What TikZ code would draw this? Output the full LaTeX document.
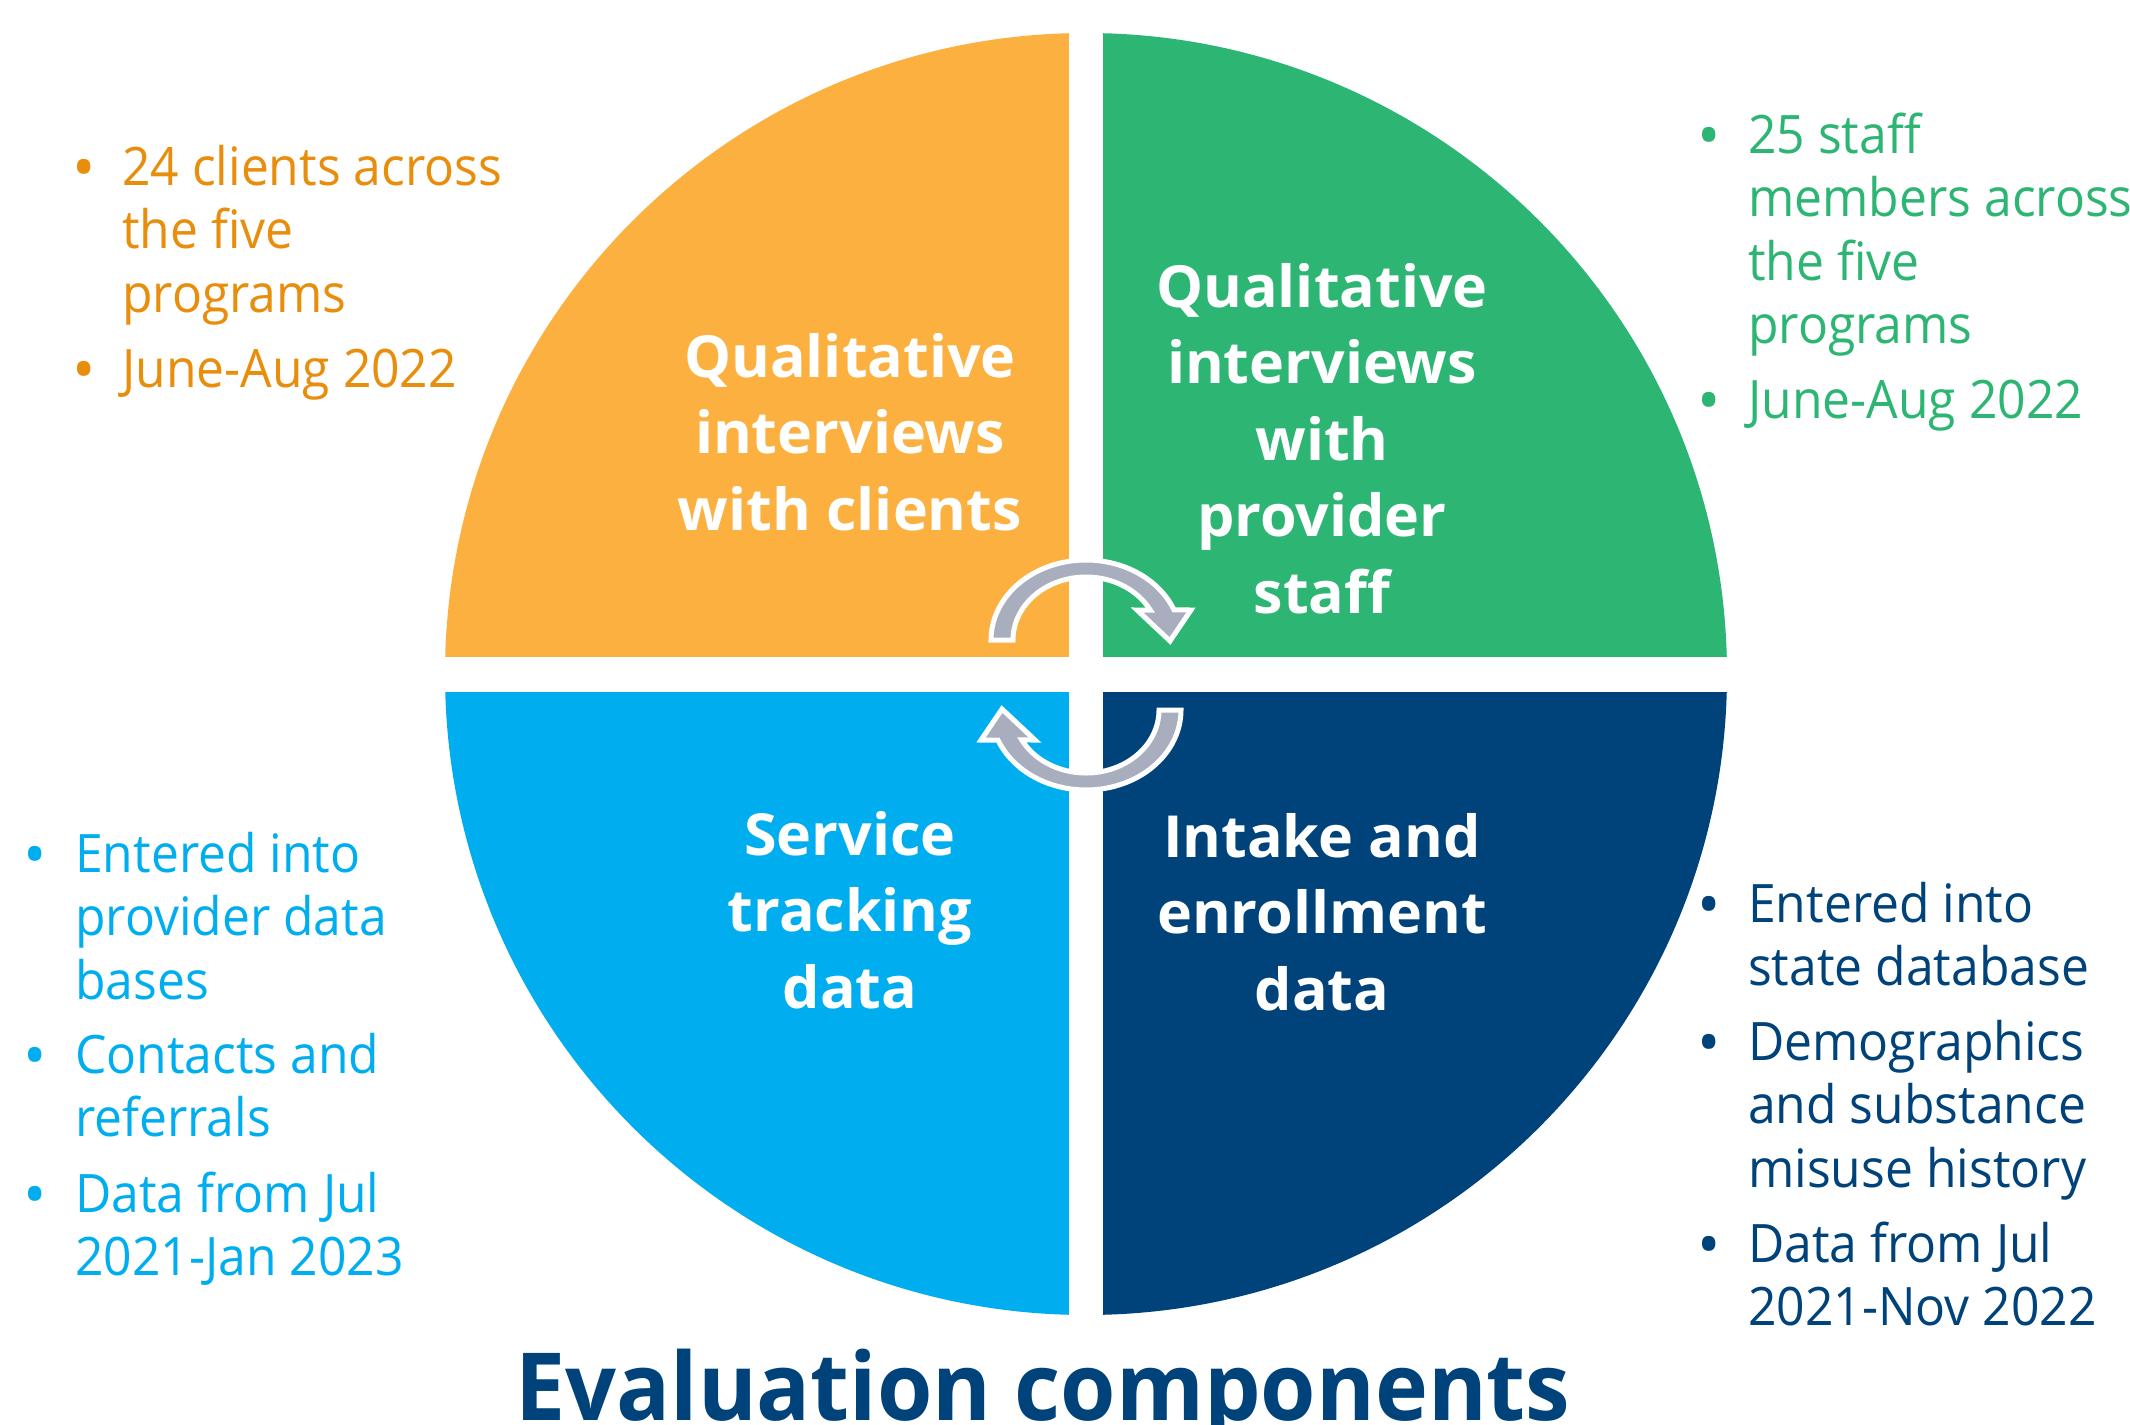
\documentclass[tikz,border=0pt]{standalone}
\usepackage{fontspec}
\newfontfamily\bodyfamily{Open Sans}[FakeStretch=0.94]
\newfontfamily\dotfamily{Open Sans}
\newfontfamily\labelfamily{Open Sans}[FakeStretch=1.02]
\newfontfamily\titlefamily{Open Sans}[FakeStretch=0.953]

\definecolor{qorange}{HTML}{FBB040}
\definecolor{qorangetext}{HTML}{E98E0C}
\definecolor{qgreen}{HTML}{2DB573}
\definecolor{qblue}{HTML}{00AEEF}
\definecolor{qnavy}{HTML}{00427A}
\definecolor{cyclegray}{HTML}{A9AEBF}

% stacked lines whose baseline is the baseline of the first line
\newcommand\leftlines[2]{\vtop{\baselineskip=#1pt\lineskiplimit=-1000pt\halign{##\hfil\cr#2\crcr}}}
\newcommand\centerlines[2]{\vtop{\baselineskip=#1pt\lineskiplimit=-1000pt\halign{\hfil##\hfil\cr#2\crcr}}}

\tikzset{
  itemtext/.style={anchor=base west, inner sep=0pt,
    font=\bodyfamily\fontsize{53}{63.5}\selectfont},
  bullet/.style={anchor=base, inner sep=0pt, yshift=-4pt,
    font=\dotfamily\fontsize{62}{70}\selectfont},
  quadlabel/.style={anchor=base, inner sep=0pt, text=white,
    font=\labelfamily\bfseries\fontsize{58}{76.5}\selectfont},
  heading/.style={anchor=base, inner sep=0pt, text=qnavy,
    font=\titlefamily\bfseries\fontsize{94}{110}\selectfont},
  cyclearrow/.style={fill=cyclegray, draw=white, line width=5pt, line join=miter}
}

% one curved arrow of the cycle, drawn over the upper half of the disc
\newcommand\cyclearrowpath{%
  \path[cyclearrow] (1013,640) -- (991,640)
    -- plot[domain=180:337.9, samples=60, variable=\t] ({1086+95*cos(\t)},{640+80*sin(\t)})
    -- (1191,610) -- (1170,641) -- (1137,610)
    -- plot[domain=331.6:180, samples=60, variable=\t] ({1086+73*cos(\t)},{640+63*sin(\t)})
    -- cycle;}

\begin{document}
\begin{tikzpicture}[x=1pt, y=-1pt]
  \useasboundingbox (0,0) rectangle (2130,1424);
  \clip (0,0) rectangle (2130,1424);
  \fill[white] (0,0) rectangle (2130,1424);

  % four quadrants of the disc, split by a white cross
  \begin{scope}
    \clip (1086,674) circle[radius=641pt];
    \fill[qorange] (400,0) rectangle (1069,657);
    \fill[qgreen] (1103,0) rectangle (1800,657);
    \fill[qblue] (400,692) rectangle (1069,1400);
    \fill[qnavy] (1103,692) rectangle (1800,1400);
  \end{scope}

  % cycle arrows in the centre
  \cyclearrowpath
  \begin{scope}[rotate around={180:(1086,675)}]
    \cyclearrowpath
  \end{scope}

  % quadrant titles
  \node[quadlabel] (clientsLabel) at (850,377)
    {\centerlines{76.5}{Qualitative\cr interviews\cr with clients}};
  \node[quadlabel] (staffLabel) at (1322,307)
    {\centerlines{76.5}{Qualitative\cr interviews\cr with\cr provider\cr staff}};
  \node[quadlabel] (serviceLabel) at (850,855)
    {\centerlines{76.5}{Service\cr tracking\cr data}};
  \node[quadlabel] (intakeLabel) at (1322,857)
    {\centerlines{76.5}{Intake and\cr enrollment\cr data}};

  % client interview notes
  \node[bullet, text=qorangetext] (clientsDotA) at (84,185) {•};
  \node[itemtext, text=qorangetext] (clientsItemA) at (122,185)
    {\leftlines{63.5}{24 clients across\cr the five\cr programs}};
  \node[bullet, text=qorangetext] (clientsDotB) at (84,387) {•};
  \node[itemtext, text=qorangetext] (clientsItemB) at (122,387) {June-Aug 2022};

  % staff interview notes
  \node[bullet, text=qgreen] (staffDotA) at (1709,153) {•};
  \node[itemtext, text=qgreen] (staffItemA) at (1748,153)
    {\leftlines{63.5}{25 staff\cr members across\cr the five\cr programs}};
  \node[bullet, text=qgreen] (staffDotB) at (1709,418) {•};
  \node[itemtext, text=qgreen] (staffItemB) at (1748,418) {June-Aug 2022};

  % service tracking notes
  \node[bullet, text=qblue] (serviceDotA) at (35,872) {•};
  \node[itemtext, text=qblue] (serviceItemA) at (75,872)
    {\leftlines{63.5}{Entered into\cr provider data\cr bases}};
  \node[bullet, text=qblue] (serviceDotB) at (35,1073) {•};
  \node[itemtext, text=qblue] (serviceItemB) at (75,1073)
    {\leftlines{63.5}{Contacts and\cr referrals}};
  \node[bullet, text=qblue] (serviceDotC) at (35,1212) {•};
  \node[itemtext, text=qblue] (serviceItemC) at (75,1212)
    {\leftlines{63.5}{Data from Jul\cr 2021-Jan 2023}};

  % intake and enrollment notes
  \node[bullet, text=qnavy] (intakeDotA) at (1709,922) {•};
  \node[itemtext, text=qnavy] (intakeItemA) at (1748,922)
    {\leftlines{63.5}{Entered into\cr state database}};
  \node[bullet, text=qnavy] (intakeDotB) at (1709,1060) {•};
  \node[itemtext, text=qnavy] (intakeItemB) at (1748,1060)
    {\leftlines{63.5}{Demographics\cr and substance\cr misuse history}};
  \node[bullet, text=qnavy] (intakeDotC) at (1709,1262) {•};
  \node[itemtext, text=qnavy] (intakeItemC) at (1748,1262)
    {\leftlines{63.5}{Data from Jul\cr 2021-Nov 2022}};

  % heading
  \node[heading] (title) at (1043,1420) {Evaluation components};
\end{tikzpicture}
\end{document}
